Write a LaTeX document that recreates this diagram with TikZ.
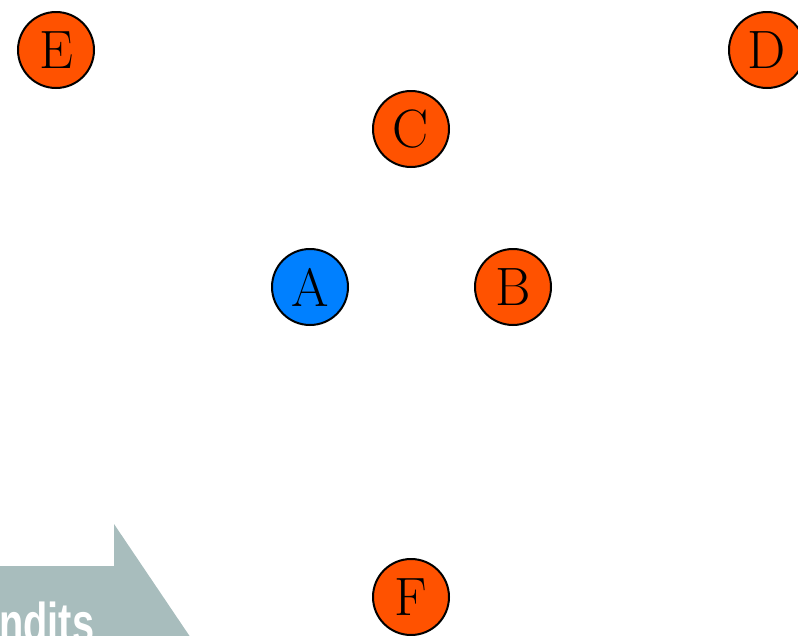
\documentclass[tikz,border=0pt]{standalone}
\usepackage{fontspec}
\newfontfamily\bannerfont{Liberation Sans}
\definecolor{nodeorange}{HTML}{FF5200}
\definecolor{nodeblue}{HTML}{0080FF}
\definecolor{bannergray}{HTML}{A8BDBD}
\begin{document}
\begin{tikzpicture}[x=1pt,y=-1pt,
  vertex/.style={circle,draw=black,line width=2pt,minimum size=76pt,inner sep=0pt,
    font=\fontsize{54}{58}\selectfont},
  orangev/.style={vertex,fill=nodeorange},
  bluev/.style={vertex,fill=nodeblue}]
\useasboundingbox (0,0) rectangle (798,635);
\begin{scope}
\clip (0,0) rectangle (798,635);
\fill[bannergray] (-10,566) -- (114,566) -- (114,524) -- (199,650) -- (114,776) -- (114,734) -- (-10,734) -- cycle;
\node[anchor=base west,inner sep=0pt,text=white,font=\bannerfont\bfseries\fontsize{56}{58}\selectfont] (banner) at (-1,642) {\scalebox{0.71}[1]{ndits}};
\node[orangev] (E) at (56,50) {E};
\node[orangev] (D) at (767,50) {D};
\node[orangev] (C) at (411,129) {C};
\node[bluev] (A) at (310,287) {A};
\node[orangev] (B) at (513,287) {B};
\node[orangev] (F) at (411,597) {F};
\end{scope}
\end{tikzpicture}
\end{document}
